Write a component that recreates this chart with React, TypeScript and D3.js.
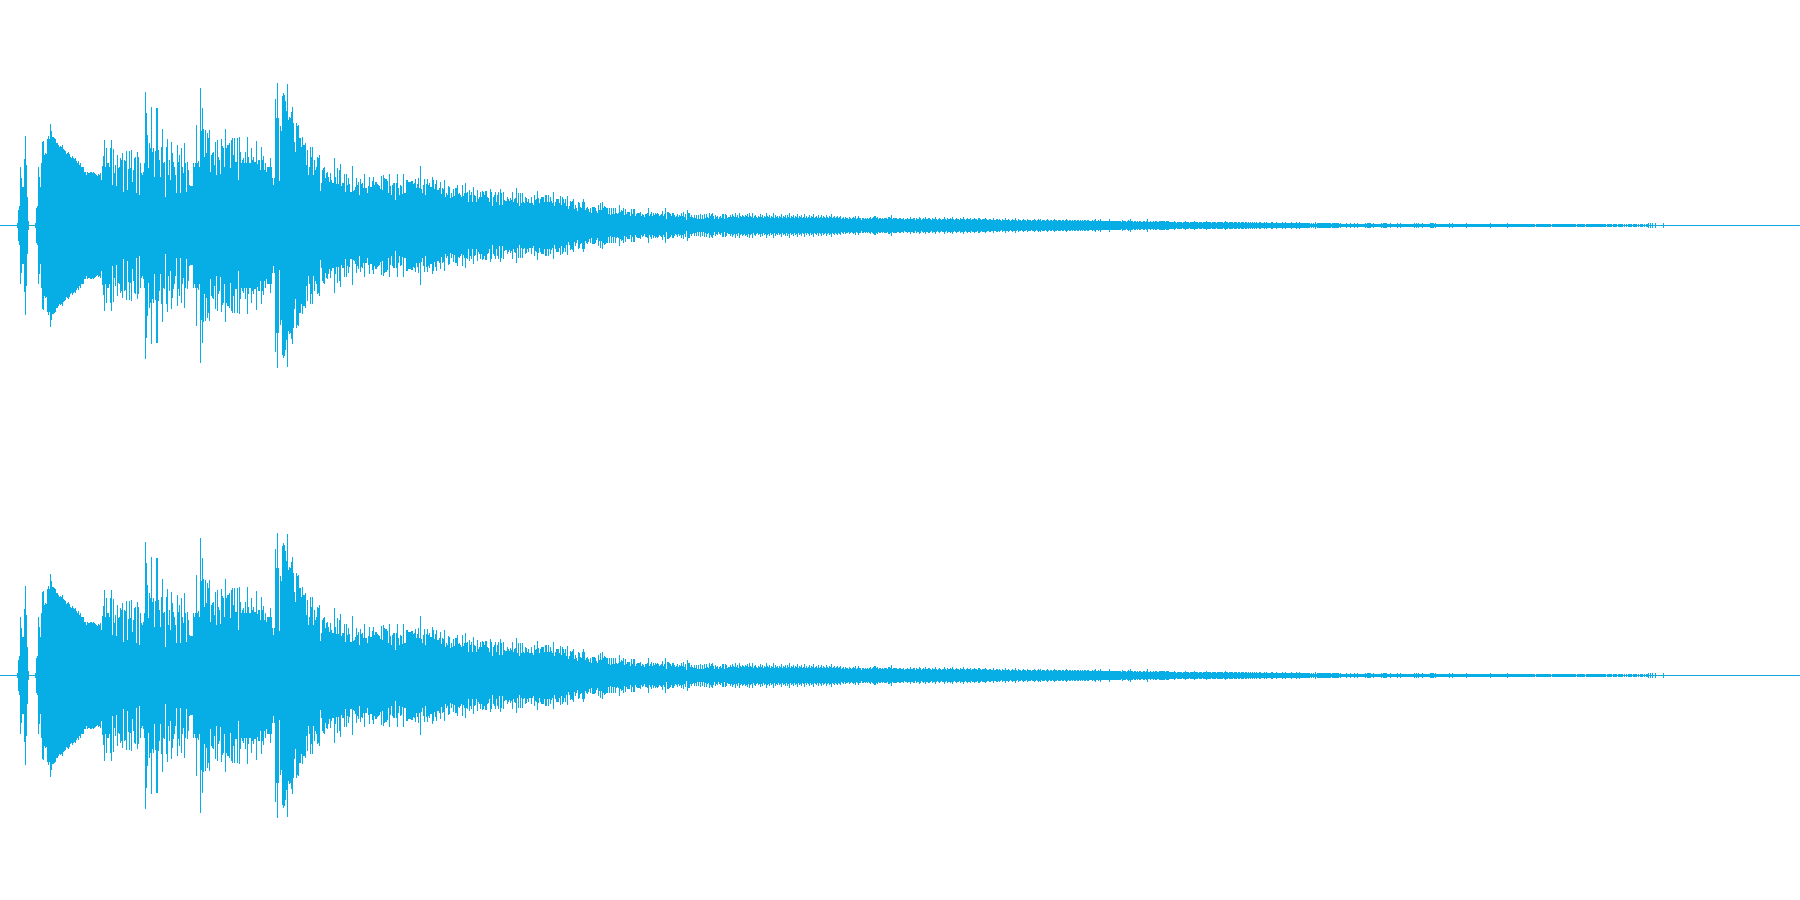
import React from "react";
import * as d3 from "d3";

// Peak level of the stereo waveform, per column of samples. Full scale is 225.
const attackPeaks = [
  0,0,0,0,0,0,0,0,0,0,
  0,0,0,0,0,0,0,2,15,19,
  58,47,38,38,66,89,60,28,4,0,
  0,0,0,0,0,2,17,19,58,48,
  38,62,83,84,70,72,71,86,89,86,
  101,94,88,88,87,86,82,82,80,78,
  79,78,80,76,75,74,71,72,73,71,
  68,67,69,67,66,67,64,62,64,60,
  62,58,58,58,53,53,50,53,52,52,
  53,53,52,53,52,51,50,49,51,50,
  52,45,59,69,85,58,77,62,62,58,
  77,85,40,76,52,60,39,70,57,58,
  67,65,72,33,65,64,74,35,56,74,
  57,75,43,55,67,68,32,73,68,30,
  62,52,50,53,62,133,112,90,57,82,
  77,118,73,77,48,74,117,117,75,65,
  48,78,96,62,63,28,78,86,50,65,
  45,83,72,63,58,50,32,80,63,70,
  32,77,58,52,82,62,33,63,55,40,
  39,39,39,62,58,62,100,62,64,58,
  137,94,117,96,68,95,72,92,87,95,
  53,70,72,73,60,83,50,85,68,65,
  51,86,79,77,58,96,77,80,80,82,
  57,85,87,70,87,63,63,87,45,88,
  73,62,65,67,62,73,62,88,68,62,
  62,77,65,68,63,63,84,61,65,65,
  55,78,65,69,55,62,53,58,58,58,
  67,58,47,40,47,126,107,142,107,44,
  99,94,129,132,130,124,114,141,105,108,
  107,113,118,102,83,73,102,99,100,87,
  87,78,88,80,80,82,60,75,50,58,
  78,68,78,50,65,55,58,68,67,70,
  34,42,55,57,58,47,52,53,48,43,
  52,45,42,42,67,48,41,57,41,55,
];

const bodyPeaks = [
  61,39,42,42,51,33,51,40,47,41,
  33,33,59,34,35,38,47,40,43,30,
  46,41,42,37,51,37,37,32,39,48,
  38,38,44,48,40,43,43,41,40,39,
  36,49,35,50,47,46,46,44,32,51,
  39,30,40,42,42,25,42,51,37,30,
  40,39,31,51,32,32,45,45,43,43,
  43,44,44,41,42,46,37,41,47,37,
  59,36,32,40,46,30,41,46,40,42,
  38,38,48,45,36,41,45,35,35,37,
  43,31,37,36,45,28,32,30,39,38,
  27,32,28,36,29,37,37,40,31,32,
  30,28,40,29,32,42,32,33,23,35,
  30,33,23,38,30,29,23,35,26,28,
  33,28,34,33,30,34,34,28,27,23,
  36,33,19,28,30,33,23,30,33,20,
  36,32,20,33,25,24,24,28,26,24,
  27,25,33,23,26,27,37,22,32,19,
  32,22,32,23,22,28,27,23,26,22,
  22,28,22,20,30,25,26,34,27,22,
  26,28,28,28,23,30,30,23,30,23,
  28,24,22,33,19,23,26,26,26,22,
  29,20,28,26,22,26,19,29,16,19,
  24,23,24,26,16,20,17,14,23,22,
  18,17,23,26,23,15,17,18,16,13,
];

const decayPeaks = [
  17,12,18,18,18,17,14,12,20,15,
  22,15,23,17,19,18,17,17,11,17,
  10,17,11,17,11,17,12,11,12,20,
  13,15,14,17,10,16,11,13,13,13,
  9,16,11,16,16,9,11,12,12,12,
  13,9,11,10,8,11,11,12,17,9,
  11,13,9,12,10,12,11,12,11,9,
  10,11,14,9,11,17,6,13,13,12,
  11,9,12,12,10,8,9,11,8,10,
  9,12,9,13,8,11,5,15,12,12,
  8,10,8,7,10,7,10,6,10,6,
  11,6,10,6,11,7,11,8,7,12,
  9,11,12,9,6,10,8,9,6,8,
  9,7,11,11,6,11,10,7,8,8,
  10,8,11,9,8,12,8,10,7,12,
  9,8,10,9,8,10,9,11,8,12,
  9,8,12,7,9,10,8,7,9,8,
  11,8,10,7,9,8,12,9,8,10,
  7,9,8,12,7,10,8,9,7,9,
  8,11,7,9,8,10,7,10,8,12,
  7,9,8,10,7,9,8,11,7,9,
  8,10,7,8,11,7,9,7,8,10,
  7,9,8,11,7,8,9,7,10,7,
  8,10,7,9,8,7,10,8,7,9,
  8,11,7,8,9,7,8,9,7,8,
];

const sustainPeaks = [
  9,6,7,8,6,8,7,7,6,8,
  7,6,7,8,7,9,6,7,9,7,
  7,5,7,7,6,7,6,7,6,7,
  8,6,7,8,9,9,7,8,6,7,
  7,6,7,6,7,7,7,6,8,8,
  7,10,6,7,7,7,7,6,6,7,
  7,6,6,7,5,6,6,7,6,6,
  8,6,6,7,7,5,7,6,6,8,
  7,5,6,7,6,8,6,6,7,7,
  6,5,7,6,6,8,6,5,6,7,
  6,5,6,6,8,6,5,7,6,6,
  7,6,8,6,5,6,7,6,6,5,
  7,6,6,8,6,5,6,7,6,6,
  7,5,6,6,7,6,6,5,7,7,
  6,5,6,6,6,7,6,5,5,6,
  6,5,5,7,5,5,6,6,5,6,
  5,4,6,5,5,7,5,5,6,5,
  4,5,6,5,5,7,5,4,6,5,
  5,4,5,6,5,5,4,6,5,5,
  5,4,5,5,6,5,4,5,6,5,
  6,4,5,5,5,4,5,6,5,4,
  5,5,4,5,6,5,5,4,5,5,
  5,4,5,5,4,5,6,5,4,5,
  5,4,5,4,5,5,4,5,5,4,
  5,4,5,4,5,5,4,5,5,4,
];

const fadePeaks = [
  4,4,5,4,5,6,4,4,5,4,
  6,4,4,4,4,4,4,4,4,6,
  4,4,4,4,4,4,4,4,4,4,
  4,3,5,4,4,4,3,4,5,4,
  6,4,4,3,4,4,3,4,3,4,
  4,3,3,4,4,3,4,6,3,3,
  4,3,3,4,3,4,4,3,3,4,
  4,4,4,4,4,3,4,4,4,3,
  3,3,3,3,4,3,2,3,3,3,
  3,3,2,3,3,4,3,3,3,2,
  3,3,3,3,4,3,3,3,2,3,
  3,3,2,3,3,3,4,3,3,3,
  3,2,3,3,3,3,2,3,3,3,
  3,3,3,2,3,4,3,3,2,3,
  3,3,3,2,3,3,3,2,3,3,
  2,3,3,3,2,3,3,2,3,2,
  3,2,3,2,3,2,3,2,2,3,
  3,2,2,2,3,2,3,2,2,2,
  2,3,3,2,2,2,3,2,2,2,
  2,2,3,2,2,3,2,2,2,2,
  2,3,2,2,2,2,3,2,2,3,
  2,2,2,2,2,2,2,2,2,2,
  1,2,1,2,1,3,1,2,2,2,
  2,2,2,2,2,2,2,2,2,2,
  2,1,2,2,2,2,2,2,2,1,
];

// Tail as [level, column count] runs.
const tailRuns = [
  [2,1],[1,5],[2,1],[1,3],[2,1],[1,3],[2,1],[1,2],[2,1],[1,7],[2,1],[1,1],[2,4],[1,2],[2,1],
  [1,7],[2,1],[1,1],[2,4],[1,3],[2,1],[1,6],[2,1],[1,2],[2,1],[1,13],[2,1],[1,1],[2,1],
  [1,1],[2,1],[1,3],[2,1],[1,7],[2,4],[1,1],[2,1],[1,13],[2,1],[1,2],[2,1],[1,13],[2,1],
  [1,23],[2,1],[1,16],[2,1],[1,27],[0,1],[1,15],[0,1],[1,24],[0,1],[1,8],[0,1],[1,20],
  [0,1],[1,5],[0,1],[1,4],[0,1],[1,5],[0,1],[1,1],[0,1],[1,1],[0,1],[1,4],[0,1],[1,4],
  [0,1],[1,1],[0,1],[1,3],[0,1],[1,1],[0,1],[1,2],[2,1],[0,1],[2,1],[0,1],[2,1],[0,2],[2,1],[0,7],[2,1],
];

const segments = [
  { start: 0, peaks: attackPeaks },
  { start: 340, peaks: bodyPeaks },
  { start: 590, peaks: decayPeaks },
  { start: 840, peaks: sustainPeaks },
  { start: 1090, peaks: fadePeaks },
  { start: 1340, peaks: tailRuns.flatMap(([level, count]) => d3.range(count).map(() => level)) },
];

const WIDTH = 1800;
const HEIGHT = 900;
const FILL = "#07ade5";
const BASELINE = "#14a7de";

const samples = segments.flatMap(({ start, peaks }) =>
  peaks.map((level, i) => ({ column: start + i, level }))
);

const x = d3.scaleLinear().domain([0, WIDTH]).range([0, WIDTH]);
const y = d3.scaleLinear().domain([225, -225]).range([0, HEIGHT / 2]);
const channels = [0, HEIGHT / 2];

export default function App() {
  return (
    <svg
      width={WIDTH}
      height={HEIGHT}
      viewBox={`0 0 ${WIDTH} ${HEIGHT}`}
      style={{ position: "absolute", left: 0, top: 0, background: "#fff" }}
      shapeRendering="crispEdges"
    >
      {channels.map((offset) => (
        <g key={offset} transform={`translate(0,${offset})`}>
          <rect x={x(0)} y={y(0)} width={x(WIDTH) - x(0)} height={1} fill={BASELINE} />
          {samples
            .filter((d) => d.level > 0)
            .map((d) => (
              <rect
                key={d.column}
                x={x(d.column)}
                y={y(d.level)}
                width={x(1) - x(0)}
                height={y(-d.level) - y(d.level) + 1}
                fill={FILL}
              />
            ))}
        </g>
      ))}
    </svg>
  );
}
